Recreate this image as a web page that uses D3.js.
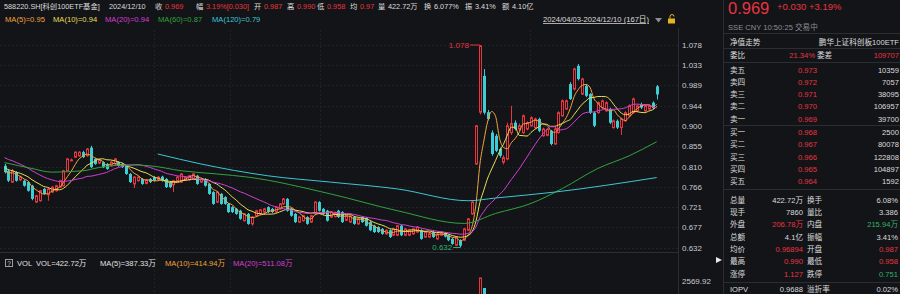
<!DOCTYPE html>
<html>
<head>
<meta charset="utf-8">
<script src="https://cdn.jsdelivr.net/npm/d3@7"></script>
<style>
  html, body { margin: 0; padding: 0; background: #131418; }
  svg { display: block; font-family: "Liberation Sans", "Noto Sans CJK SC", sans-serif; }
</style>
</head>
<body>
<div id="chart"></div>
<script>
const width = 900, height = 294;
const chartRight = 678, panelLeft = 723;

// 19 closes before the visible window (only used to warm up MA5/10/20)
const prevCloses = [0.862, 0.858, 0.855, 0.860, 0.852, 0.848, 0.850, 0.845, 0.846, 0.840,
  0.830, 0.822, 0.815, 0.808, 0.805, 0.800, 0.802, 0.798, 0.806];

// daily candles 2024/04/03 - 2024/12/10: [open, high, low, close]
const ohlc = [
  [0.812, 0.816, 0.795, 0.798], [0.801, 0.805, 0.776, 0.779], [0.776, 0.805, 0.774, 0.801], [0.798, 0.800, 0.777, 0.779],
  [0.781, 0.790, 0.778, 0.787], [0.779, 0.781, 0.766, 0.768], [0.776, 0.778, 0.755, 0.757], [0.768, 0.770, 0.736, 0.739],
  [0.732, 0.748, 0.730, 0.746], [0.735, 0.759, 0.733, 0.757], [0.761, 0.763, 0.748, 0.750], [0.748, 0.763, 0.735, 0.761],
  [0.754, 0.767, 0.752, 0.765], [0.757, 0.770, 0.755, 0.768], [0.765, 0.781, 0.763, 0.779], [0.768, 0.803, 0.766, 0.801],
  [0.801, 0.829, 0.799, 0.827], [0.824, 0.828, 0.822, 0.825], [0.831, 0.844, 0.829, 0.842], [0.834, 0.844, 0.832, 0.842],
  [0.842, 0.845, 0.829, 0.831], [0.834, 0.851, 0.832, 0.849], [0.852, 0.856, 0.807, 0.809], [0.827, 0.829, 0.814, 0.816],
  [0.818, 0.827, 0.816, 0.825], [0.820, 0.822, 0.807, 0.809], [0.816, 0.818, 0.803, 0.805], [0.812, 0.822, 0.810, 0.820],
  [0.816, 0.829, 0.814, 0.827], [0.820, 0.822, 0.810, 0.812], [0.816, 0.818, 0.807, 0.809], [0.812, 0.814, 0.792, 0.794],
  [0.794, 0.796, 0.774, 0.776], [0.772, 0.789, 0.763, 0.787], [0.779, 0.789, 0.777, 0.787], [0.783, 0.785, 0.770, 0.772],
  [0.773, 0.783, 0.771, 0.781], [0.783, 0.785, 0.774, 0.776], [0.787, 0.789, 0.777, 0.779], [0.781, 0.789, 0.779, 0.787],
  [0.788, 0.790, 0.777, 0.779], [0.783, 0.785, 0.763, 0.765], [0.776, 0.778, 0.763, 0.765], [0.770, 0.781, 0.754, 0.779],
  [0.779, 0.789, 0.777, 0.787], [0.776, 0.796, 0.774, 0.794], [0.781, 0.789, 0.779, 0.787], [0.781, 0.792, 0.779, 0.790],
  [0.783, 0.796, 0.781, 0.794], [0.790, 0.792, 0.770, 0.772], [0.776, 0.785, 0.774, 0.783], [0.783, 0.785, 0.766, 0.768],
  [0.772, 0.774, 0.748, 0.750], [0.754, 0.756, 0.726, 0.728], [0.732, 0.756, 0.730, 0.754], [0.750, 0.752, 0.726, 0.728],
  [0.743, 0.745, 0.726, 0.728], [0.728, 0.730, 0.708, 0.710], [0.721, 0.723, 0.708, 0.710], [0.717, 0.719, 0.704, 0.706],
  [0.713, 0.715, 0.693, 0.695], [0.691, 0.708, 0.689, 0.706], [0.706, 0.708, 0.682, 0.684], [0.684, 0.701, 0.680, 0.699],
  [0.702, 0.715, 0.700, 0.713], [0.706, 0.717, 0.704, 0.715], [0.710, 0.719, 0.708, 0.717], [0.721, 0.723, 0.708, 0.710],
  [0.717, 0.719, 0.708, 0.710], [0.710, 0.723, 0.708, 0.721], [0.717, 0.730, 0.715, 0.728], [0.728, 0.741, 0.726, 0.739],
  [0.739, 0.741, 0.711, 0.713], [0.717, 0.719, 0.700, 0.702], [0.706, 0.708, 0.686, 0.688], [0.688, 0.701, 0.686, 0.699],
  [0.691, 0.704, 0.689, 0.702], [0.699, 0.701, 0.682, 0.684], [0.688, 0.704, 0.686, 0.702], [0.706, 0.734, 0.704, 0.732],
  [0.732, 0.734, 0.711, 0.713], [0.717, 0.719, 0.704, 0.706], [0.713, 0.715, 0.689, 0.691], [0.699, 0.712, 0.697, 0.710],
  [0.700, 0.711, 0.698, 0.709], [0.713, 0.715, 0.697, 0.699], [0.710, 0.712, 0.686, 0.688], [0.692, 0.704, 0.690, 0.702],
  [0.688, 0.704, 0.686, 0.702], [0.699, 0.701, 0.682, 0.684], [0.684, 0.697, 0.682, 0.695], [0.699, 0.701, 0.686, 0.688],
  [0.697, 0.699, 0.678, 0.680], [0.688, 0.690, 0.668, 0.670], [0.680, 0.682, 0.664, 0.666], [0.677, 0.679, 0.664, 0.666],
  [0.673, 0.675, 0.660, 0.662], [0.662, 0.672, 0.660, 0.670], [0.670, 0.672, 0.653, 0.655], [0.659, 0.675, 0.657, 0.673],
  [0.659, 0.682, 0.657, 0.680], [0.680, 0.682, 0.657, 0.659], [0.659, 0.675, 0.657, 0.673], [0.659, 0.672, 0.657, 0.670],
  [0.662, 0.675, 0.660, 0.673], [0.666, 0.679, 0.664, 0.677], [0.670, 0.672, 0.649, 0.651], [0.655, 0.668, 0.653, 0.666],
  [0.655, 0.664, 0.653, 0.662], [0.666, 0.668, 0.653, 0.655], [0.651, 0.664, 0.649, 0.662], [0.659, 0.668, 0.657, 0.666],
  [0.664, 0.666, 0.654, 0.656], [0.659, 0.661, 0.646, 0.648], [0.651, 0.653, 0.638, 0.640], [0.637, 0.657, 0.635, 0.655],
  [0.648, 0.650, 0.632, 0.636], [0.648, 0.675, 0.646, 0.673], [0.670, 0.697, 0.668, 0.695], [0.706, 0.734, 0.704, 0.732],
  [0.816, 0.902, 0.814, 0.900], [0.930, 1.078, 0.925, 1.076], [1.010, 1.025, 0.925, 0.929], [0.930, 0.935, 0.912, 0.915],
  [0.885, 0.890, 0.834, 0.838], [0.878, 0.882, 0.842, 0.845], [0.849, 0.852, 0.830, 0.834], [0.820, 0.835, 0.815, 0.830],
  [0.827, 0.907, 0.824, 0.900], [0.885, 0.944, 0.880, 0.905], [0.907, 0.912, 0.890, 0.893], [0.893, 0.905, 0.888, 0.900],
  [0.885, 0.925, 0.882, 0.922], [0.893, 0.910, 0.890, 0.907], [0.900, 0.921, 0.898, 0.918], [0.896, 0.918, 0.894, 0.915],
  [0.915, 0.918, 0.886, 0.889], [0.878, 0.896, 0.876, 0.893], [0.879, 0.895, 0.877, 0.892], [0.889, 0.891, 0.857, 0.860],
  [0.860, 0.896, 0.858, 0.893], [0.885, 0.932, 0.883, 0.929], [0.922, 0.958, 0.920, 0.955], [0.937, 0.958, 0.935, 0.955],
  [0.992, 0.996, 0.957, 0.959], [0.981, 1.028, 0.978, 1.025], [1.032, 1.036, 1.000, 1.003], [0.970, 1.006, 0.968, 1.003],
  [0.988, 0.991, 0.963, 0.966], [0.970, 0.972, 0.926, 0.929], [0.929, 0.931, 0.897, 0.900], [0.929, 0.954, 0.927, 0.951],
  [0.940, 0.958, 0.938, 0.955], [0.933, 0.954, 0.931, 0.951], [0.937, 0.940, 0.904, 0.907], [0.896, 0.914, 0.894, 0.911],
  [0.911, 0.914, 0.893, 0.896], [0.896, 0.918, 0.880, 0.915], [0.911, 0.932, 0.909, 0.929], [0.922, 0.947, 0.920, 0.944],
  [0.929, 0.962, 0.927, 0.959], [0.933, 0.947, 0.931, 0.944], [0.948, 0.951, 0.937, 0.940], [0.933, 0.947, 0.931, 0.944],
  [0.937, 0.947, 0.935, 0.944], [0.951, 0.954, 0.937, 0.939], [0.987, 0.990, 0.958, 0.969]
];

// long moving averages: [day index, value]
const ma60Points = [[0, 0.819], [7, 0.806], [12, 0.798], [20, 0.801], [24, 0.808], [31, 0.814], [37, 0.812],
  [45, 0.801], [54, 0.794], [62, 0.787], [83, 0.750], [100, 0.713], [117, 0.685], [125, 0.707],
  [134, 0.729], [142, 0.762], [151, 0.806], [159, 0.834], [166, 0.865]];
const ma120Points = [[39, 0.838], [50, 0.816], [67, 0.790], [83, 0.776], [100, 0.761], [118, 0.735],
  [125, 0.741], [140, 0.754], [166, 0.786]];

// volume bars that reach into the visible part of the volume pane (万)
const volumePoints = [[121, 2770], [122, 2110]];

const priceTicks = [1.078, 1.033, 0.989, 0.944, 0.900, 0.855, 0.810, 0.766, 0.721, 0.677, 0.632];
const volTick = 2569.92;

const maInfo = [
  {label: "MA(5)=0.95", color: "#f0a43a"},
  {label: "MA(10)=0.94", color: "#e9de58"},
  {label: "MA(20)=0.94", color: "#d23fd2"},
  {label: "MA(60)=0.87", color: "#31a23f"},
  {label: "MA(120)=0.79", color: "#3cc6d4"}
];
const maPeriods = [5, 10, 20];

const headerItems = [
  ["588220.SH[科创100ETF基金]", "w"], ["2024/12/10", "w"],
  ["收", "w"], ["0.969", "r"], ["幅", "w"], ["3.19%[0.030]", "r"],
  ["开", "w"], ["0.987", "r"], ["高", "w"], ["0.990", "r"],
  ["低", "w"], ["0.958", "r"], ["均", "w"], ["0.97", "r"],
  ["量", "w"], ["422.72万", "w"], ["换", "w"], ["6.077%", "w"],
  ["振", "w"], ["3.41%", "w"], ["额", "w"], ["4.10亿", "w"]
];
const volHeader = [["VOL", "#e0e0e0"], ["VOL=422.72万", "#e0e0e0"], ["MA(5)=387.33万", "#e0e0e0"],
  ["MA(10)=414.94万", "#f0a43a"], ["MA(20)=511.08万", "#d23fd2"]];

const asks = [["卖五", "0.973", "10359"], ["卖四", "0.972", "7057"], ["卖三", "0.971", "38095"],
  ["卖二", "0.970", "106957"], ["卖一", "0.969", "39700"]];
const bids = [["买一", "0.968", "2500"], ["买二", "0.967", "80078"], ["买三", "0.966", "122808"],
  ["买四", "0.965", "104897"], ["买五", "0.964", "1592"]];
const stats = [
  ["总量", "422.72万", "w", "换手", "6.08%", "w"],
  ["现手", "7860", "w", "量比", "3.386", "w"],
  ["外盘", "206.78万", "r", "内盘", "215.94万", "g"],
  ["总额", "4.1亿", "w", "振幅", "3.41%", "w"],
  ["均价", "0.96894", "r", "开盘", "0.987", "r"],
  ["最高", "0.990", "r", "最低", "0.958", "r"],
  ["涨停", "1.127", "r", "跌停", "0.751", "g"],
  ["IOPV", "0.9688", "w", "溢折率", "0.02%", "w"]
];

// layout (x positions of header texts)
const headerX = [4, 109, 155, 165, 196, 206, 254, 264, 287, 297, 317, 327, 350, 360, 378, 388, 424, 434, 465, 475, 502, 512];
const maX = [5, 53, 105, 158, 212];
const volX = [17, 36, 100, 165, 233];
const statY = [202.5, 214.8, 227.2, 239.5, 251.8, 264.2, 276.5, 291.5];

const RED = "#e8353f", CYAN = "#3ecdd4", GREEN = "#2fb36b", WHITE = "#dcdcdc", GRAY = "#8b8e95";
const GRID = "#202228", LINE = "#2b2d34";
const colorOf = {r: RED, g: GREEN, w: WHITE};
const FS = "7.6px";

const svg = d3.select("#chart").append("svg")
  .attr("width", width).attr("height", height);
svg.append("rect").attr("width", width).attr("height", height).attr("fill", "#131418");

const x = d3.scaleLinear().domain([0, ohlc.length - 1]).range([4.5, 656.7]);
const y = d3.scaleLinear().domain([0.632, 1.078]).range([247.5, 45]);
const yVol = d3.scaleLinear().domain([0, volTick]).range([320, 281]);

// grid
const grid = svg.append("g");
grid.selectAll("line.h").data(priceTicks).enter().append("line")
  .attr("x1", 0).attr("x2", chartRight)
  .attr("y1", d => Math.round(y(d)) + 0.5).attr("y2", d => Math.round(y(d)) + 0.5)
  .attr("stroke", GRID).attr("stroke-dasharray", "2,2");
const vGrid = [154, 230, 320, 530];
grid.selectAll("line.v").data(vGrid).enter().append("line")
  .attr("x1", d => d + 0.5).attr("x2", d => d + 0.5).attr("y1", 30).attr("y2", height)
  .attr("stroke", GRID).attr("stroke-dasharray", "2,2");
svg.append("line").attr("x1", 0).attr("x2", chartRight).attr("y1", 252.5).attr("y2", 252.5).attr("stroke", LINE);
svg.append("line").attr("x1", chartRight + 0.5).attr("x2", chartRight + 0.5).attr("y1", 28).attr("y2", height).attr("stroke", LINE);
svg.append("line").attr("x1", panelLeft + 0.5).attr("x2", panelLeft + 0.5).attr("y1", 0).attr("y2", height).attr("stroke", LINE);

// y axis
const yAxis = svg.append("g").attr("transform", `translate(${chartRight},0)`)
  .call(d3.axisRight(y).tickValues(priceTicks).tickFormat(d3.format(".3f")).tickSize(0).tickPadding(4));
yAxis.select(".domain").remove();
yAxis.selectAll("text").attr("fill", "#c9cbd0").style("font-size", "8px");

svg.append("text").attr("x", 682).attr("y", yVol(volTick)).attr("dy", "0.32em")
  .attr("fill", "#c9cbd0").style("font-size", "8px").text(d3.format(".2f")(volTick));

// moving averages from closes
const closes = ohlc.map(d => d[3]);
const allCloses = prevCloses.concat(closes);
function movingAvg(n) {
  return closes.map((c, i) => {
    const j = i + prevCloses.length;
    return d3.mean(allCloses.slice(Math.max(0, j - n + 1), j + 1));
  });
}

// candles
const candles = svg.append("g");
ohlc.forEach((d, i) => {
  const [o, h, l, c] = d;
  const up = c >= o;
  const col = up ? RED : CYAN;
  const cx = Math.round(x(i)) + 0.5;
  const top = y(Math.max(o, c)), bot = y(Math.min(o, c));
  if (up) {
    candles.append("line").attr("x1", cx).attr("x2", cx).attr("y1", y(h)).attr("y2", top).attr("stroke", col);
    candles.append("line").attr("x1", cx).attr("x2", cx).attr("y1", bot).attr("y2", y(l)).attr("stroke", col);
    candles.append("rect").attr("x", cx - 1).attr("y", top).attr("width", 2).attr("height", Math.max(1, bot - top))
      .attr("fill", "none").attr("stroke", col);
  } else {
    candles.append("line").attr("x1", cx).attr("x2", cx).attr("y1", y(h)).attr("y2", y(l)).attr("stroke", col);
    candles.append("rect").attr("x", cx - 1.5).attr("y", top).attr("width", 3).attr("height", Math.max(1, bot - top))
      .attr("fill", col);
  }
});

// MA lines
const lineGen = d3.line().x(d => x(d[0])).y(d => y(d[1])).curve(d3.curveMonotoneX);
maPeriods.forEach((n, k) => {
  const pts = movingAvg(n).map((v, i) => [i, v]);
  svg.append("path").attr("d", lineGen(pts)).attr("fill", "none")
    .attr("stroke", maInfo[k].color).attr("stroke-width", 1);
});
svg.append("path").attr("d", lineGen(ma60Points)).attr("fill", "none").attr("stroke", maInfo[3].color);
svg.append("path").attr("d", lineGen(ma120Points)).attr("fill", "none").attr("stroke", maInfo[4].color);

// high / low markers
const hiIdx = d3.maxIndex(ohlc, d => d[1]), loIdx = d3.minIndex(ohlc, d => d[2]);
svg.append("line").attr("x1", x(hiIdx) - 10).attr("x2", x(hiIdx)).attr("y1", y(ohlc[hiIdx][1])).attr("y2", y(ohlc[hiIdx][1])).attr("stroke", RED);
svg.append("text").attr("x", x(hiIdx) - 11).attr("y", y(ohlc[hiIdx][1])).attr("dy", "0.35em").attr("text-anchor", "end")
  .attr("fill", RED).style("font-size", "8px").text(d3.format(".3f")(ohlc[hiIdx][1]));
svg.append("line").attr("x1", x(loIdx) - 7).attr("x2", x(loIdx)).attr("y1", y(ohlc[loIdx][2])).attr("y2", y(ohlc[loIdx][2])).attr("stroke", GREEN);
svg.append("text").attr("x", x(loIdx) - 8).attr("y", y(ohlc[loIdx][2])).attr("dy", "0.35em").attr("text-anchor", "end")
  .attr("fill", GREEN).style("font-size", "8px").text(d3.format(".3f")(ohlc[loIdx][2]));

// volume bars
volumePoints.forEach(([i, v]) => {
  const o = ohlc[i][0], c = ohlc[i][3];
  const cx = Math.round(x(i)) + 0.5;
  if (c >= o) {
    svg.append("rect").attr("x", cx - 1).attr("y", yVol(v)).attr("width", 2).attr("height", height - yVol(v) + 5)
      .attr("fill", "none").attr("stroke", RED);
  } else {
    svg.append("rect").attr("x", cx - 1.5).attr("y", yVol(v)).attr("width", 3).attr("height", height - yVol(v))
      .attr("fill", CYAN);
  }
});

// header rows
headerItems.forEach(([t, c], k) => {
  svg.append("text").attr("x", headerX[k]).attr("y", 9).attr("fill", colorOf[c]).style("font-size", "7.3px").text(t);
});
maInfo.forEach((d, k) => {
  svg.append("text").attr("x", maX[k]).attr("y", 22).attr("fill", d.color).style("font-size", FS).text(d.label);
});
volHeader.forEach(([t, c], k) => {
  svg.append("text").attr("x", volX[k]).attr("y", 266).attr("fill", c).style("font-size", FS).text(t);
});
svg.append("rect").attr("x", 5.5).attr("y", 259.5).attr("width", 7).attr("height", 7)
  .attr("fill", "none").attr("stroke", "#9a9ca2");
svg.append("text").attr("x", 9).attr("y", 265.5).attr("text-anchor", "middle").attr("fill", "#c9cbd0")
  .style("font-size", "6.5px").text("?");

// date range + icons
svg.append("text").attr("x", 543).attr("y", 22).attr("fill", WHITE).style("font-size", FS)
  .style("text-decoration", "underline").text("2024/04/03-2024/12/10 (167日)");
svg.append("path").attr("d", "M655,18 L662,18 L658.5,22.5 Z").attr("fill", "#8b8e95");
svg.append("rect").attr("x", 668).attr("y", 18.5).attr("width", 7).attr("height", 5).attr("fill", "#e6b422");
svg.append("path").attr("d", "M670,18.5 V16.5 A2,2 0 0 1 674,16.5").attr("fill", "none").attr("stroke", "#e6b422");

// right panel
const p = svg.append("g");
p.append("text").attr("x", 728).attr("y", 13.5).attr("fill", RED).style("font-size", "16.5px").text("0.969");
p.append("text").attr("x", 777).attr("y", 10).attr("fill", RED).style("font-size", "9.5px").text("+0.030  +3.19%");
p.append("text").attr("x", 728).attr("y", 30).attr("fill", GRAY).style("font-size", FS).text("SSE  CNY  10:50:25  交易中");
[33, 48, 62, 125, 189, 282].forEach(yy => {
  p.append("line").attr("x1", panelLeft + 1).attr("x2", width).attr("y1", yy + 0.5).attr("y2", yy + 0.5).attr("stroke", LINE);
});
p.append("text").attr("x", 730).attr("y", 44.5).attr("fill", WHITE).style("font-size", FS).text("净值走势");
p.append("text").attr("x", 899).attr("y", 44.5).attr("text-anchor", "end").attr("fill", WHITE).style("font-size", FS).text("鹏华上证科创板100ETF");
p.append("text").attr("x", 730).attr("y", 57.5).attr("fill", WHITE).style("font-size", FS).text("委比");
p.append("text").attr("x", 815).attr("y", 57.5).attr("text-anchor", "end").attr("fill", RED).style("font-size", FS).text("21.34%");
p.append("text").attr("x", 817).attr("y", 57.5).attr("fill", WHITE).style("font-size", FS).text("委差");
p.append("text").attr("x", 899).attr("y", 57.5).attr("text-anchor", "end").attr("fill", RED).style("font-size", FS).text("109707");

function bookRows(rows, y0) {
  rows.forEach((r, k) => {
    const yy = y0 + k * 12.3;
    p.append("text").attr("x", 730).attr("y", yy).attr("fill", WHITE).style("font-size", FS).text(r[0]);
    p.append("text").attr("x", 817).attr("y", yy).attr("text-anchor", "end").attr("fill", RED).style("font-size", FS).text(r[1]);
    p.append("text").attr("x", 899).attr("y", yy).attr("text-anchor", "end").attr("fill", WHITE).style("font-size", FS).text(r[2]);
  });
}
bookRows(asks, 72.5);
bookRows(bids, 135);

stats.forEach((r, k) => {
  const yy = statY[k];
  p.append("text").attr("x", 730).attr("y", yy).attr("fill", WHITE).style("font-size", FS).text(r[0]);
  p.append("text").attr("x", 803).attr("y", yy).attr("text-anchor", "end").attr("fill", colorOf[r[2]]).style("font-size", FS).text(r[1]);
  p.append("text").attr("x", 807).attr("y", yy).attr("fill", WHITE).style("font-size", FS).text(r[3]);
  p.append("text").attr("x", 898).attr("y", yy).attr("text-anchor", "end").attr("fill", colorOf[r[5]]).style("font-size", FS).text(r[4]);
});
p.append("path").attr("d", "M716,257 L722,260 L716,263 Z").attr("fill", "#e8e8e8");
</script>
</body>
</html>
